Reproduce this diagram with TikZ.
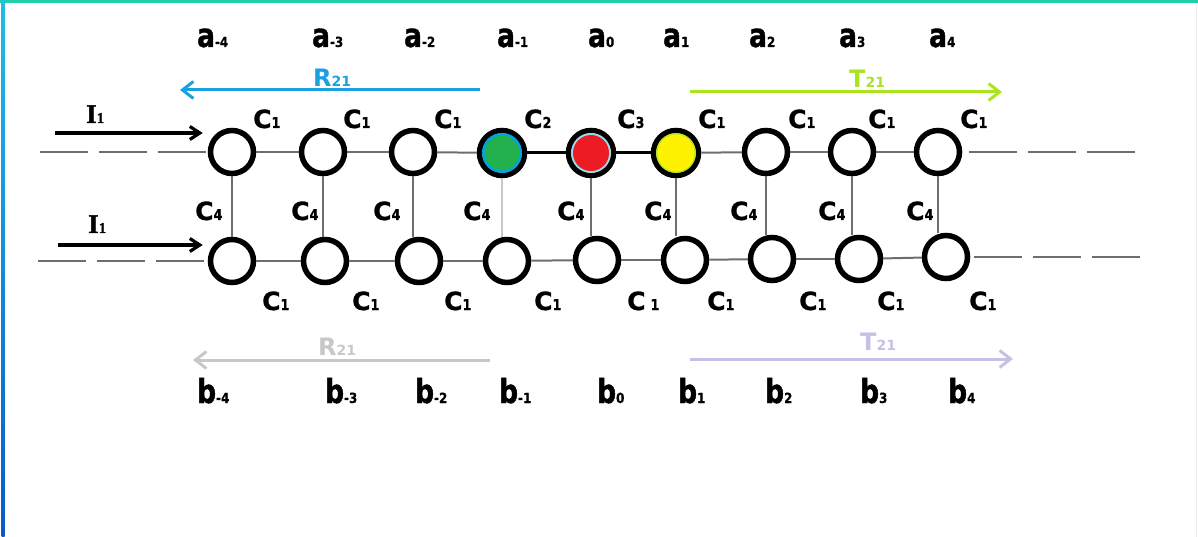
\documentclass[tikz,border=0pt]{standalone}
\usepackage{fontspec}
\setmainfont{DejaVu Sans}
\newfontfamily\labf[FakeStretch=0.8,FakeBold=1.2]{DejaVu Sans Bold}
\newfontfamily\subf[FakeStretch=0.85,FakeBold=0.6]{DejaVu Sans Bold}
\newfontfamily\cf[FakeBold=1]{DejaVu Sans Bold}
\newfontfamily\rf{DejaVu Sans Bold}
\newfontfamily\serf[FakeBold=1.5]{Liberation Serif Bold}
\usetikzlibrary{arrows.meta}
\definecolor{topline}{RGB}{30,208,168}
\definecolor{lefttop}{RGB}{30,190,230}
\definecolor{leftbot}{RGB}{10,90,200}
\definecolor{conn}{RGB}{110,110,110}
\definecolor{rblue}{RGB}{27,161,226}
\definecolor{tgreen}{RGB}{170,228,30}
\definecolor{rgray}{RGB}{200,200,200}
\definecolor{tlav}{RGB}{200,191,231}
\definecolor{cgreen}{RGB}{34,177,76}
\definecolor{cgreenring}{RGB}{0,162,232}
\definecolor{cred}{RGB}{237,28,36}
\definecolor{credring}{RGB}{153,217,234}
\definecolor{cyellow}{RGB}{255,242,0}
\definecolor{cyellowring}{RGB}{181,230,29}
\newcommand\ablab[2]{{\labf\fontsize{33}{33}\selectfont #1}{\subf\fontsize{14}{14}\selectfont #2}}
\newcommand\clab[2]{{\cf\fontsize{25}{25}\selectfont #1}{\subf\fontsize{15}{15}\selectfont #2}}
\newcommand\rtlab[2]{{\rf\fontsize{24}{24}\selectfont #1}{\rf\fontsize{14}{14}\selectfont #2}}
\newcommand\ilab{{\serf\fontsize{27}{27}\selectfont I}{\serf\fontsize{15}{15}\selectfont 1}}
\tikzset{
  cell/.style={circle, draw=black, line width=5.5pt, minimum size=43pt, inner sep=0pt, fill=white},
  ccell/.style={cell, minimum size=45pt},
  txt/.style={inner sep=0pt, anchor=base west},
  link/.style={draw=conn, line width=2pt},
  rung/.style={draw=conn, line width=1.8pt},
  dashlink/.style={draw=conn, line width=2pt, dash pattern=on 48pt off 11pt},
  barb/.style={-{Straight Barb[length=11pt,width=17pt]}, line width=3pt},
}
\begin{document}
\begin{tikzpicture}[x=1pt,y=-1pt]
\useasboundingbox (0,0) rectangle (1198,537);
% frame
\draw[topline, line width=3pt] (0,2) -- (1198,2);
\shade[top color=lefttop, bottom color=leftbot] (1.5,0) rectangle (4.5,537);
\draw[gray!15, line width=1pt] (1196,4) -- (1196,537);

% coordinates for dashed ends
\coordinate (tl) at (40,152);
\coordinate (tr) at (1135,152);
\coordinate (bl) at (38,261);
\coordinate (br) at (1140,257);

% top row cells
\node[cell] (t1) at (232,152) {};
\node[cell] (t2) at (323,152) {};
\node[cell] (t3) at (413,152) {};
\node[ccell] (t4) at (502,153) {};
\node[ccell] (t5) at (591,153) {};
\node[ccell] (t6) at (676,153) {};
\node[cell] (t7) at (766,152) {};
\node[cell] (t8) at (852,152) {};
\node[cell] (t9) at (938,152) {};
% bottom row cells
\node[cell] (b1) at (232,261) {};
\node[cell] (b2) at (325,261) {};
\node[cell] (b3) at (419,261) {};
\node[cell] (b4) at (507,261) {};
\node[cell] (b5) at (597,260) {};
\node[cell] (b6) at (685,260) {};
\node[cell] (b7) at (772,259) {};
\node[cell] (b8) at (859,259) {};
\node[cell] (b9) at (946,257) {};

% colored fills
\fill[cgreenring] (t4.center) circle (20pt);
\fill[cgreen] (t4.center) circle (17.5pt);
\fill[credring] (t5.center) circle (20pt);
\fill[cred] (t5.center) circle (18pt);
\fill[cyellowring] (t6.center) circle (20pt);
\fill[cyellow] (t6.center) circle (18.5pt);

% horizontal links
\path[link] (t1) -- (t2);
\path[link] (t2) -- (t3);
\path[link] (t3) -- (t4);
\draw[black, line width=3pt] (t4) -- (t5);
\draw[black, line width=3pt] (t5) -- (t6);
\path[link] (t6) -- (t7);
\path[link] (t7) -- (t8);
\path[link] (t8) -- (t9);
\path[link] (b1) -- (b2);
\path[link] (b2) -- (b3);
\path[link] (b3) -- (b4);
\path[link] (b4) -- (b5);
\path[link] (b5) -- (b6);
\path[link] (b6) -- (b7);
\path[link] (b7) -- (b8);
\path[link] (b8) -- (b9);
% vertical rungs
\path[rung] (t1.south) -- (t1.south |- b1.north);
\path[rung] (t2.south) -- (t2.south |- b2.north);
\path[rung] (t3.south) -- (t3.south |- b3.north);
\draw[rgray, line width=1.5pt] (t4.south) -- (t4.south |- b4.north);
\path[rung] (t5.south) -- (t5.south |- b5.north);
\path[rung] (t6.south) -- (t6.south |- b6.north);
\path[rung] (t7.south) -- (t7.south |- b7.north);
\path[rung] (t8.south) -- (t8.south |- b8.north);
\path[rung] (t9.south) -- (t9.south |- b9.north);
% dashed continuations
\path[dashlink] (tl) -- (t1.west);
\path[dashlink] (tr) -- (t9.east);
\path[dashlink] (bl) -- (b1.west);
\path[dashlink] (br) -- (b9.east);

% input arrows
\coordinate (i1s) at (55,133);
\coordinate (i2s) at (58,245);
\draw[-{Straight Barb[length=10pt,width=13pt]}, line width=3.2pt] (i1s) -- ([xshift=-5pt]i1s -| t1.west);
\draw[-{Straight Barb[length=10pt,width=13pt]}, line width=3.2pt] (i2s) -- ([xshift=-5pt]i2s -| b1.west);
\node[txt] (li1) at (86,123) {\ilab};
\node[txt] (li2) at (88,233) {\ilab};

% R21 / T21 arrows top
\coordinate (rts) at (480,90);
\coordinate (rte) at (180,90);
\draw[barb, rblue] (rts) -- (rte);
\node[txt, text=rblue] (lrt) at (313,87) {\rtlab{R}{21}};
\coordinate (tts) at (690,92);
\coordinate (tte) at (1002,92);
\draw[barb, tgreen] (tts) -- (tte);
\node[txt, text=tgreen] (ltt) at (849,88) {\rtlab{T}{21}};
% bottom
\coordinate (rbs) at (490,360);
\coordinate (rbe) at (193,360);
\draw[barb, rgray] (rbs) -- (rbe);
\node[txt, text=rgray] (lrb) at (318,355) {\rtlab{R}{21}};
\coordinate (tbs) at (690,359);
\coordinate (tbe) at (1013,359);
\draw[barb, tlav] (tbs) -- (tbe);
\node[txt, text=tlav] (ltb) at (860,350) {\rtlab{T}{21}};

% a labels
\node[txt] (a1) at (197,47) {\ablab{a}{-4}};
\node[txt] (a2) at (312,47) {\ablab{a}{-3}};
\node[txt] (a3) at (404,47) {\ablab{a}{-2}};
\node[txt] (a4) at (497,47) {\ablab{a}{-1}};
\node[txt] (a5) at (588,47) {\ablab{a}{0}};
\node[txt] (a6) at (663,47) {\ablab{a}{1}};
\node[txt] (a7) at (749,47) {\ablab{a}{2}};
\node[txt] (a8) at (839,47) {\ablab{a}{3}};
\node[txt] (a9) at (929,47) {\ablab{a}{4}};

% b labels
\node[txt] (bb1) at (197,403) {\ablab{b}{-4}};
\node[txt] (bb2) at (325,403) {\ablab{b}{-3}};
\node[txt] (bb3) at (415,403) {\ablab{b}{-2}};
\node[txt] (bb4) at (499,403) {\ablab{b}{-1}};
\node[txt] (bb5) at (597,403) {\ablab{b}{0}};
\node[txt] (bb6) at (678,403) {\ablab{b}{1}};
\node[txt] (bb7) at (765,403) {\ablab{b}{2}};
\node[txt] (bb8) at (860,403) {\ablab{b}{3}};
\node[txt] (bb9) at (948,403) {\ablab{b}{4}};

% top C labels
\node[txt] (c1) at (253,128) {\clab{C}{1}};
\node[txt] (c2) at (343,128) {\clab{C}{1}};
\node[txt] (c3) at (434,128) {\clab{C}{1}};
\node[txt] (c4) at (524,128) {\clab{C}{2}};
\node[txt] (c5) at (617,128) {\clab{C}{3}};
\node[txt] (c6) at (698,128) {\clab{C}{1}};
\node[txt] (c7) at (788,128) {\clab{C}{1}};
\node[txt] (c8) at (868,128) {\clab{C}{1}};
\node[txt] (c9) at (960,128) {\clab{C}{1}};

% C4 labels
\node[txt] (d1) at (195,220) {\clab{C}{4}};
\node[txt] (d2) at (291,220) {\clab{C}{4}};
\node[txt] (d3) at (373,220) {\clab{C}{4}};
\node[txt] (d4) at (463,220) {\clab{C}{4}};
\node[txt] (d5) at (557,220) {\clab{C}{4}};
\node[txt] (d6) at (644,220) {\clab{C}{4}};
\node[txt] (d7) at (730,220) {\clab{C}{4}};
\node[txt] (d8) at (818,220) {\clab{C}{4}};
\node[txt] (d9) at (906,220) {\clab{C}{4}};

% bottom C1 labels
\node[txt] (e1) at (262,310) {\clab{C}{1}};
\node[txt] (e2) at (352,310) {\clab{C}{1}};
\node[txt] (e3) at (444,310) {\clab{C}{1}};
\node[txt] (e4) at (534,310) {\clab{C}{1}};
\node[txt] (e5) at (627,310) {\clab{C}{\,\,1}};
\node[txt] (e6) at (707,310) {\clab{C}{1}};
\node[txt] (e7) at (799,310) {\clab{C}{1}};
\node[txt] (e8) at (877,310) {\clab{C}{1}};
\node[txt] (e9) at (969,310) {\clab{C}{1}};
\end{tikzpicture}
\end{document}
